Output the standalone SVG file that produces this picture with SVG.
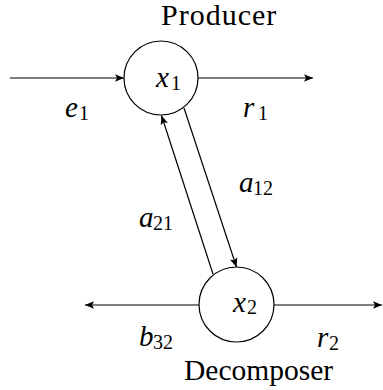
<svg xmlns="http://www.w3.org/2000/svg" width="383" height="390" viewBox="0 0 383 390">
<defs>
<marker id="ah" viewBox="0 0 10 10" refX="10" refY="5" markerWidth="9" markerHeight="9" markerUnits="userSpaceOnUse" orient="auto">
<path d="M0,0.8 L10,5 L0,9.2 L2.2,5 Z" fill="#000"/>
</marker>
</defs>
<g id="connectors" stroke="#000" stroke-width="1.2" fill="none" marker-end="url(#ah)">
<line x1="10" y1="78" x2="124" y2="78"/>
<line x1="198" y1="78" x2="313" y2="78"/>
<line x1="199" y1="305" x2="85" y2="305"/>
<line x1="274" y1="305" x2="382" y2="305"/>
<line x1="184" y1="108" x2="236.5" y2="267"/>
<line x1="213" y1="274" x2="161.5" y2="115.5"/>
</g>
<g id="producer">
<circle cx="161" cy="78" r="37" fill="#fff" stroke="#000" stroke-width="1.2"/>
<text font-family="Liberation Serif" font-size="29" font-style="italic" x="156" y="87">x</text>
<text font-family="Liberation Serif" font-size="20" x="171" y="90">1</text>
<text font-family="Liberation Serif" font-size="30" letter-spacing="1" x="161" y="25">Producer</text>
</g>
<g id="decomposer">
<circle cx="236.5" cy="304.5" r="37.5" fill="#fff" stroke="#000" stroke-width="1.2"/>
<text font-family="Liberation Serif" font-size="29" font-style="italic" x="233" y="312">x</text>
<text font-family="Liberation Serif" font-size="20" x="247" y="314">2</text>
<text font-family="Liberation Serif" font-size="29.5" x="184" y="380">Decomposer</text>
</g>
<g id="labels">
<text font-family="Liberation Serif" font-size="29" font-style="italic" x="65" y="117">e</text>
<text font-family="Liberation Serif" font-size="20" x="79" y="120">1</text>
<text font-family="Liberation Serif" font-size="29" font-style="italic" x="243" y="117">r</text>
<text font-family="Liberation Serif" font-size="20" x="258" y="120">1</text>
<text font-family="Liberation Serif" font-size="29" font-style="italic" x="239" y="192">a</text>
<text font-family="Liberation Serif" font-size="20" x="253" y="195">12</text>
<text font-family="Liberation Serif" font-size="29" font-style="italic" x="139" y="227">a</text>
<text font-family="Liberation Serif" font-size="20" x="153" y="230">21</text>
<text font-family="Liberation Serif" font-size="29" font-style="italic" x="139" y="346">b</text>
<text font-family="Liberation Serif" font-size="20" x="153" y="349">32</text>
<text font-family="Liberation Serif" font-size="29" font-style="italic" x="317" y="347">r</text>
<text font-family="Liberation Serif" font-size="20" x="329" y="350">2</text>
</g>
</svg>
